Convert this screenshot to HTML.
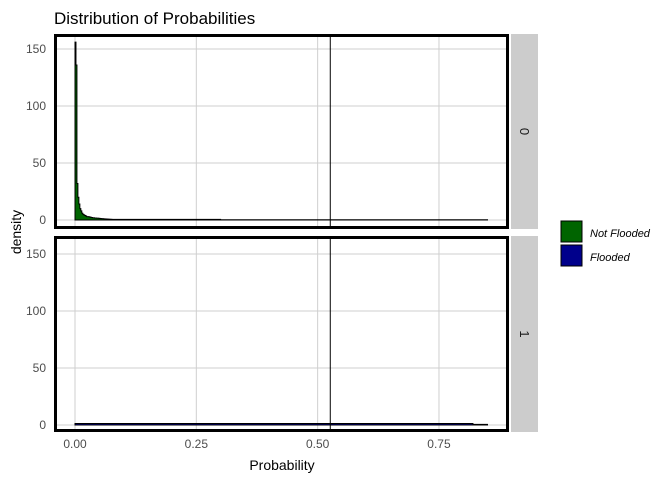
<!DOCTYPE html>
<html><head><meta charset="utf-8"><style>
body{margin:0;background:#fff;font-family:"Liberation Sans",Arial,sans-serif}
</style></head><body>
<svg id="c" width="672" height="480" xmlns="http://www.w3.org/2000/svg">
<text x="54" y="24" font-size="17" fill="#000">Distribution of Probabilities</text>
<text transform="translate(21,232) rotate(-90)" text-anchor="middle" font-size="14">density</text>
<text x="282" y="470" text-anchor="middle" font-size="14">Probability</text>
<g id="plot"></g>
<g>
<rect x="561" y="221" width="21" height="21" fill="#006400" stroke="#000"/>
<text x="590" y="237" font-size="11" font-style="italic">Not Flooded</text>
<rect x="561" y="245" width="21" height="21" fill="#00008b" stroke="#000"/>
<text x="590" y="261" font-size="11" font-style="italic">Flooded</text>
</g>
</svg>
<script>
const xTicks=[0,0.25,0.5,0.75];
const xTickLabels=["0.00","0.25","0.50","0.75"];
const yTicks=[0,50,100,150];
const facets=["0","1"];
const binWidth=0.002;
const headDensity0=[156,136,32,20,14,10,8,6,5,4.5,4,3.5,3,3,2.8,2.6,2.4,2.2,2,2,1.8,1.8,1.6,1.6,1.5,1.4,1.3,1.2,1.2,1.1,1,1,0.9,0.9,0.8,0.8,0.7,0.7,0.6,0.6];
const tailSegments0=[[0.08,0.3,0.5],[0.3,0.85,0.2]];
const headDensity1=[];
const tailSegments1=[[0,0.82,1.3],[0.82,0.85,0.6]];
const vline=0.526;
const fills=["#006400","#00008b"];
const NS="http://www.w3.org/2000/svg";
const g=document.getElementById('plot');
function mk(t,a){const e=document.createElementNS(NS,t);for(const k in a)e.setAttribute(k,a[k]);return e;}
const px0=54,px1=509;
const X=v=>75+v*485.3;
const panels=[{top:34,bot:229,zero:220},{top:236,bot:432,zero:425}];
const Yf=(p,v)=>p.zero-v*1.14;
panels.forEach((p,i)=>{
  const bg=mk('rect',{x:px0,y:p.top,width:px1-px0,height:p.bot-p.top,fill:'#fff'});
  
  
  g.appendChild(bg);
  xTicks.forEach(v=>g.appendChild(mk('line',{x1:X(v),x2:X(v),y1:p.top,y2:p.bot,stroke:'#cfcfcf','stroke-width':1})));
  yTicks.forEach(v=>{
    g.appendChild(mk('line',{x1:px0,x2:px1,y1:Yf(p,v),y2:Yf(p,v),stroke:'#cfcfcf','stroke-width':1}));
    const t=mk('text',{x:46,y:Yf(p,v)+4,'text-anchor':'end','font-size':12,fill:'#4d4d4d'});
    t.textContent=v;
    
    
    g.appendChild(t);
  });
  const head=i==0?headDensity0:headDensity1, segs=i==0?tailSegments0:tailSegments1;
  let d='M'+X(0)+','+p.zero;
  head.forEach((v,k)=>{d+=' L'+X(k*binWidth)+','+Yf(p,v)+' L'+X((k+1)*binWidth)+','+Yf(p,v);});
  segs.forEach(s=>{d+=' L'+X(s[0])+','+Yf(p,s[2])+' L'+X(s[1])+','+Yf(p,s[2]);});
  d+=' L'+X(segs[segs.length-1][1])+','+p.zero+' Z';
  const path=mk('path',{d:d,fill:fills[i],stroke:'#000','stroke-width':1});
  
  
  g.appendChild(path);
  const vl=mk('line',{x1:X(vline),x2:X(vline),y1:p.top,y2:p.bot,stroke:'#000','stroke-width':1});
  
  
  g.appendChild(vl);
  g.appendChild(mk('rect',{x:px0+1.5,y:p.top+1.5,width:px1-px0-3,height:p.bot-p.top-3,fill:'none',stroke:'#000','stroke-width':3}));
  const st=mk('rect',{x:511,y:p.top,width:27,height:p.bot-p.top,fill:'#cccccc'});
  
  
  g.appendChild(st);
  const sl=mk('text',{transform:'translate(520,'+((p.top+p.bot)/2)+') rotate(90)','text-anchor':'middle','font-size':13,fill:'#1a1a1a'});
  sl.textContent=facets[i];
  
  
  g.appendChild(sl);
});
xTicks.forEach((v,k)=>{
  const t=mk('text',{x:X(v),y:448,'text-anchor':'middle','font-size':12,fill:'#4d4d4d'});
  t.textContent=xTickLabels[k];
  
  
  g.appendChild(t);
});
</script>
</body></html>
